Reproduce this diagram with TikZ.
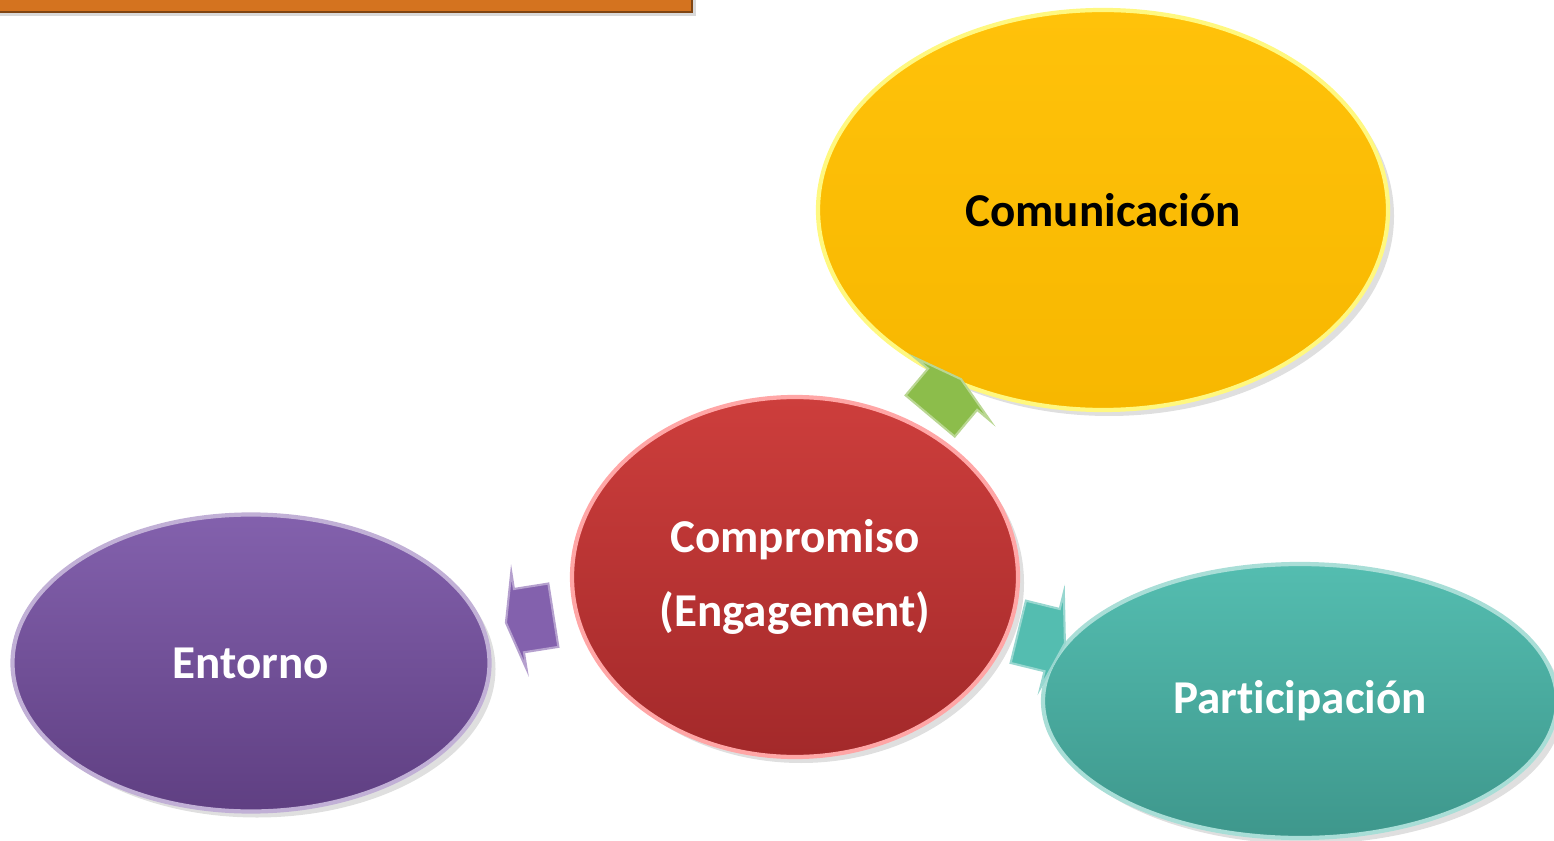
\documentclass[tikz,border=0pt]{standalone}
\usepackage{fontspec}
\setmainfont{Carlito}[Ligatures=NoCommon]
\usetikzlibrary{shapes.geometric,shapes.arrows,shadows}

\definecolor{goldtop}{HTML}{FFC20A}
\definecolor{goldbot}{HTML}{F7B700}
\definecolor{redtop}{HTML}{CD3E3C}
\definecolor{redbot}{HTML}{A3292A}
\definecolor{purptop}{HTML}{8361AD}
\definecolor{purpbot}{HTML}{5F3F82}
\definecolor{tealtop}{HTML}{54BDB0}
\definecolor{tealbot}{HTML}{3E978C}
\definecolor{leafgreen}{HTML}{8CBD4B}
\definecolor{barorange}{HTML}{D4731F}

\begin{document}
\begin{tikzpicture}[
  bubble/.style={ellipse, inner sep=0pt, align=center, line width=1.2pt,
    font=\fontsize{13.4}{21}\selectfont\bfseries, text=white,
    drop shadow={opacity=0.25, shadow xshift=0.6mm, shadow yshift=-0.6mm}},
  linkarrow/.style={single arrow, inner sep=0pt, text width=0pt,
    text height=0.31cm, text depth=0.31cm, minimum height=0.48cm,
    single arrow head extend=0.17cm, single arrow tip angle=150,
    line width=0.6pt, sloped, allow upside down, pos=0.48},
]
\useasboundingbox (0,0) rectangle (15.54,8.40);

%%% title bar %%%
\fill[black, opacity=0.15] (0,8.24) rectangle (6.96,8.40);
\fill[barorange, draw=barorange!60!black, line width=0.6pt] (-0.1,8.28) rectangle (6.92,8.50);

%% centre
\node[bubble, minimum width=4.46cm, minimum height=3.60cm,
  top color=redtop, bottom color=redbot, draw=red!35!white] (comp) at (7.95,2.63)
  {Compromiso\\(Engagement)};
%% 
\node[bubble, minimum width=5.70cm, minimum height=4.00cm, text=black,
  top color=goldtop, bottom color=goldbot, draw=yellow!50!white] (comu) at (11.03,6.30)
  {Comunicación};
%% 
\node[bubble, minimum width=4.77cm, minimum height=2.97cm,
  top color=purptop, bottom color=purpbot, draw=purptop!50!white] (ento) at (2.51,1.77)
  {Entorno};
%% 
\node[bubble, minimum width=5.14cm, minimum height=2.74cm,
  top color=tealtop, bottom color=tealbot, draw=tealtop!50!white] (part) at (13.00,1.39)
  {Participación};

%%% arrows %%%
\path (comp.center) -- node[linkarrow, fill=leafgreen, draw=leafgreen!60!white] {} (comu.center);
\path (comp.center) -- node[linkarrow, fill=purptop, draw=purptop!60!white] {} (ento.center);
\path (comp.center) -- node[linkarrow, fill=tealtop, draw=tealtop!60!white] {} (part.center);

\end{tikzpicture}
\end{document}
